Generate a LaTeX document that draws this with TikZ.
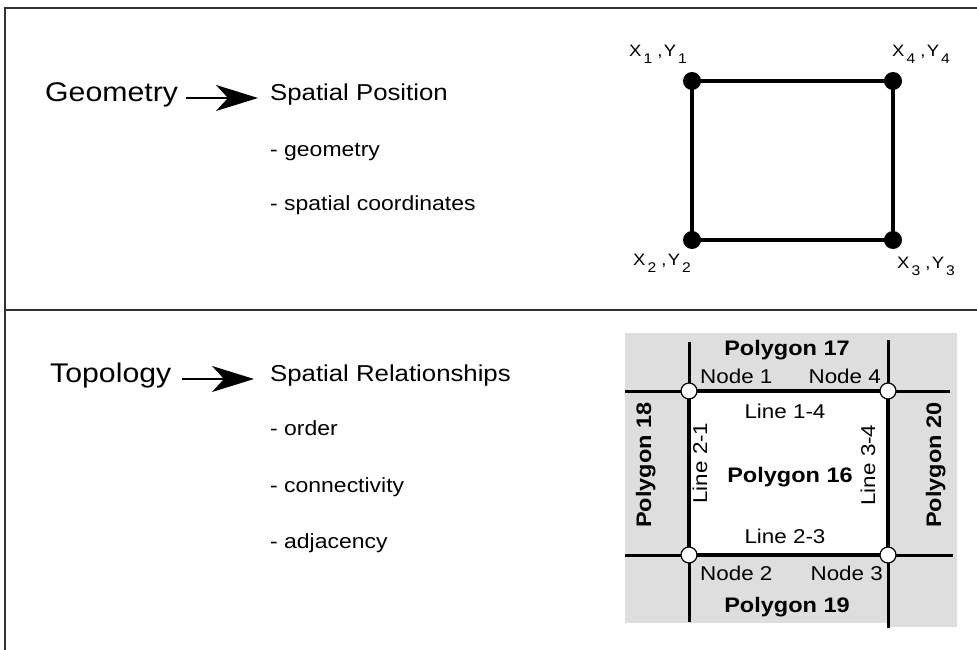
\documentclass[tikz,border=0pt]{standalone}
\usepackage{fontspec}
\setmainfont{Liberation Sans}[FakeStretch=1.12]
\usetikzlibrary{arrows.meta}
\definecolor{mapgrey}{RGB}{222,222,222}
\definecolor{framegrey}{RGB}{50,50,50}
% lowered index for the coordinate labels
\newcommand{\lowidx}[1]{\hspace{2pt}\raisebox{-7pt}{\fontsize{14}{14}\selectfont #1}}
\newcommand{\coordpair}[1]{X\lowidx{#1}\hspace{5pt},\hspace{1.5pt}Y\lowidx{#1}}

\begin{document}
\begin{tikzpicture}[x=1pt,y=-1pt,
  frame/.style={draw=framegrey, line width=1.8pt},
  head/.style={font=\fontsize{27}{30}\selectfont, inner sep=0pt, anchor=base west},
  subhead/.style={font=\fontsize{23}{26}\selectfont, inner sep=0pt, anchor=base west},
  item/.style={font=\fontsize{20.5}{24}\selectfont, inner sep=0pt, anchor=base west},
  maparrow/.style={line width=2pt, -{Stealth[length=42pt,width=26pt,inset=12pt]}},
  coordlbl/.style={font=\fontsize{16.5}{18}\selectfont, inner sep=0pt, anchor=base west},
  vertex/.style={circle, fill=black, minimum size=18pt, inner sep=0pt},
  geoedge/.style={line width=3.5pt},
  topolbl/.style={font=\fontsize{20}{22}\selectfont, inner sep=0pt},
  polylbl/.style={font=\fontsize{21}{24}\selectfont\bfseries, inner sep=0pt},
  arcline/.style={line width=4.5pt},
  extline/.style={line width=3pt},
  topnode/.style={circle, draw=black, line width=1.2pt, fill=white, minimum size=16pt, inner sep=0pt}
]
\useasboundingbox (0,0) rectangle (977,650);

% outer frame and panel divider
\coordinate (fTR) at (977,8);
\coordinate (fTL) at (5,8);
\coordinate (fBL) at (5,650);
\coordinate (dL) at (5,310);
\coordinate (dR) at (977,310);
\draw[frame] (fTR) -- (fTL) -- (fBL);
\draw[frame] (dL) -- (dR);

% ---------- geometry panel ----------
\node[head] (geo) at (45,102) {Geometry};
\coordinate (ga0) at (186,98);
\coordinate (ga1) at (258,98);
\draw[maparrow] (ga0) -- (ga1);
\node[subhead] (pos) at (270,101) {Spatial Position};
\node[item] (g1) at (270,157) {- geometry};
\node[item] (g2) at (270,210) {- spatial coordinates};

\node[vertex] (v1) at (692,81) {};
\node[vertex] (v4) at (893,81) {};
\node[vertex] (v3) at (893,240) {};
\node[vertex] (v2) at (692,240) {};
\draw[geoedge] (v1.center) -- (v4.center) -- (v3.center) -- (v2.center) -- cycle;

\node[coordlbl] (l1) at (629,57) {\coordpair{1}};
\node[coordlbl] (l4) at (892,57) {\coordpair{4}};
\node[coordlbl] (l2) at (633,265) {\coordpair{2}};
\node[coordlbl] (l3) at (897,268) {\coordpair{3}};

% ---------- topology panel ----------
\node[head] (topo) at (50,382) {Topology};
\coordinate (ta0) at (182,379);
\coordinate (ta1) at (254,379);
\draw[maparrow] (ta0) -- (ta1);
\node[subhead] (rel) at (270,381) {Spatial Relationships};
\node[item] (t1) at (270,435) {- order};
\node[item] (t2) at (270,492) {- connectivity};
\node[item] (t3) at (270,548) {- adjacency};

% map background and the enclosed polygon
\fill[mapgrey] (625,333) rectangle (957,623);
\fill[mapgrey] (888,623) rectangle (957,627);
\fill[white] (689,391) rectangle (888,555);

% arcs leaving the nodes
\coordinate (e1t) at (689,342);
\coordinate (e1b) at (689,622);
\coordinate (e4t) at (888,340);
\coordinate (e4b) at (888,628);
\coordinate (h1l) at (625,391);
\coordinate (h1r) at (950,391);
\coordinate (h2l) at (625,555);
\coordinate (h2r) at (953,555);
\draw[extline] (e1t) -- (e1b);
\draw[extline] (e4t) -- (e4b);
\draw[extline] (h1l) -- (h1r);
\draw[extline] (h2l) -- (h2r);

\coordinate (c1) at (689,391);
\coordinate (c4) at (888,391);
\coordinate (c3) at (888,555);
\coordinate (c2) at (689,555);
\draw[arcline] (c1) -- (c4) -- (c3) -- (c2) -- cycle;

\node[topnode] (n1) at (c1) {};
\node[topnode] (n4) at (c4) {};
\node[topnode] (n3) at (c3) {};
\node[topnode] (n2) at (c2) {};

% labels
\node[polylbl, anchor=base] (p17) at (787,355) {Polygon 17};
\node[topolbl, anchor=base west] (nl1) at (700,383) {Node 1};
\node[topolbl, anchor=base east] (nl4) at (881,383) {Node 4};
\node[topolbl, anchor=base] (a14) at (785,418) {Line 1-4};
\node[polylbl, anchor=base] (p16) at (790,482) {Polygon 16};
\node[topolbl, anchor=base] (a23) at (785,543) {Line 2-3};
\node[topolbl, anchor=base west] (nl2) at (700,580) {Node 2};
\node[topolbl, anchor=base east] (nl3) at (883,580) {Node 3};
\node[polylbl, anchor=base] (p19) at (787,612) {Polygon 19};
\node[polylbl, anchor=base, rotate=90] (p18) at (651,465) {Polygon 18};
\node[polylbl, anchor=base, rotate=90] (p20) at (941,465) {Polygon 20};
\node[topolbl, anchor=base, rotate=90, fill=white, inner sep=1pt] (a21) at (707,463) {Line 2-1};
\node[topolbl, anchor=base, rotate=90] (a34) at (875,465) {Line 3-4};
\end{tikzpicture}
\end{document}
